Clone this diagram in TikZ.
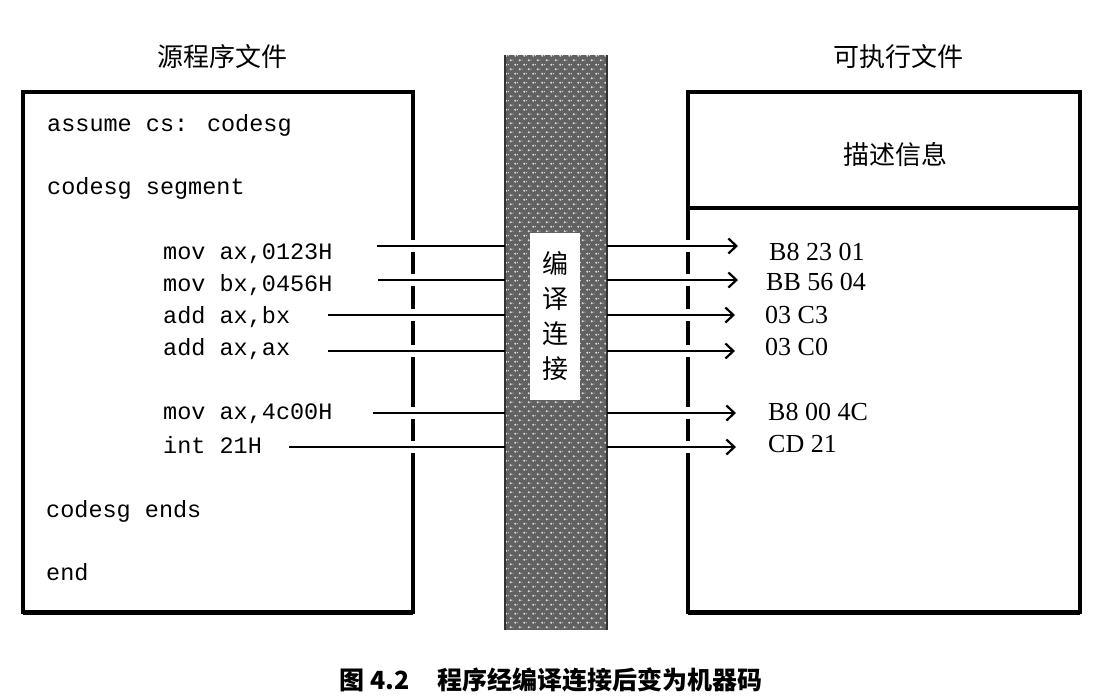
\documentclass[tikz,border=0pt]{standalone}
\usepackage{fontspec}
\setmainfont{Liberation Serif}
\newfontfamily\cjk{Noto Sans CJK SC}
\newfontfamily\codefont{Liberation Mono}
\usetikzlibrary{arrows.meta,patterns}
\pgfdeclarepatternformonly{speckle}{\pgfqpoint{-1pt}{-1pt}}{\pgfqpoint{10pt}{10pt}}{\pgfqpoint{9pt}{9pt}}{%
  \pgfpathcircle{\pgfqpoint{2.25pt}{2.25pt}}{1.2pt}%
  \pgfpathcircle{\pgfqpoint{6.75pt}{6.75pt}}{1.2pt}%
  \pgfpathrectangle{\pgfqpoint{4.05pt}{1.85pt}}{\pgfqpoint{0.9pt}{0.9pt}}%
  \pgfpathrectangle{\pgfqpoint{-0.45pt}{6.35pt}}{\pgfqpoint{0.9pt}{0.9pt}}%
  \pgfusepath{fill}}
\begin{document}
\begin{tikzpicture}[x=1pt,y=-1pt,
  box/.style={draw=black,line width=3.5pt,inner sep=0pt,outer sep=0pt},
  code/.style={anchor=base west,inner sep=0pt,font=\codefont\fontsize{23.5}{26}\selectfont},
  mach/.style={anchor=base west,inner sep=0pt,font=\fontsize{26}{28}\selectfont},
  title/.style={inner sep=0pt,font=\cjk\fontsize{26}{28}\selectfont},
  conn/.style={draw=black,line width=2.6pt},
  tip/.style={-{Straight Barb[length=8pt,width=15pt,line width=2.2pt]}},
  halo/.style={draw=white,line width=12pt}]
\useasboundingbox[fill=white] (0,0) rectangle (1103,697);

% titles
\node[title] (t1) at (222,57) {源程序文件};
\node[title] (t2) at (898,57) {可执行文件};

% source box
\node[box,minimum width=390pt,minimum height=520pt] (src) at (218,352) {};
\draw[line width=2pt] ([yshift=-1.5pt]src.south west) -- ([yshift=-1.5pt]src.south east);
% executable file boxes
\node[box,minimum width=392pt,minimum height=116pt] (desc) at (884,150) {};
\node[box,minimum width=392pt,minimum height=404pt] (exe) at (884,410) {};
\draw[line width=2pt] ([yshift=-1.5pt]exe.south west) -- ([yshift=-1.5pt]exe.south east);
\node[title] (dl) at (895,155) {描述信息};

% central compile/link bar
\node[inner sep=0pt,outer sep=0pt,minimum width=102pt,minimum height=575pt,
      preaction={fill=black!62},pattern=speckle,pattern color=white!85!black] (bar) at (556,342.5) {};
\draw[line width=1.6pt,black!80] (bar.north west) -- (bar.south west);
\draw[line width=1.6pt,black!80] (bar.north east) -- (bar.south east);
\node[fill=white,inner sep=0pt,minimum width=50pt,minimum height=167pt,align=center,
      font=\cjk\fontsize{26}{35}\selectfont] (bl) at (555,316.5) {编\\译\\连\\接};

% source code
\node[code] (s1) at (47,131) {assume cs: codesg};
\node[code] (s2) at (47,194) {codesg segment};
\node[code] (c1) at (163,259) {mov ax,0123H};
\node[code] (c2) at (163,291) {mov bx,0456H};
\node[code] (c3) at (163,323) {add ax,bx};
\node[code] (c4) at (163,355) {add ax,ax};
\node[code] (c5) at (163,419) {mov ax,4c00H};
\node[code] (c6) at (163,453) {int 21H};
\node[code] (s3) at (46,517) {codesg ends};
\node[code] (s4) at (46,580) {end};

% machine code
\node[mach] (m1) at (769,260.5) {B8 23 01};
\node[mach] (m2) at (766,290.5) {BB 56 04};
\node[mach] (m3) at (765,323.5) {03 C3};
\node[mach] (m4) at (765,355.5) {03 C0};
\node[mach] (m5) at (768,420.5) {B8 00 4C};
\node[mach] (m6) at (768,452.5) {CD 21};

% arrow tails and tips
\coordinate (a1) at (377,246); \coordinate (b1) at (738,246);
\coordinate (a2) at (378,280); \coordinate (b2) at (738,280);
\coordinate (a3) at (328,315); \coordinate (b3) at (735,315);
\coordinate (a4) at (328,351); \coordinate (b4) at (735,351);
\coordinate (a5) at (373,413); \coordinate (b5) at (736,413);
\coordinate (a6) at (289,447); \coordinate (b6) at (736,447);

\foreach \i in {1,...,6}{
  \draw[halo] (a\i -| src.east) ++(-7,0) -- ++(14,0);
  \draw[halo] (a\i -| exe.west) ++(-7,0) -- ++(14,0);
  \draw[conn] (a\i) -- (a\i -| bar.west);
  \draw[conn,tip] (a\i -| bar.east) -- (b\i);
}

% caption
\node[inner sep=0pt,font=\cjk\bfseries\fontsize{25}{28}\selectfont] (cap) at (551,680)
  {图\hspace{6pt}4.2\hspace{28pt}程序经编译连接后变为机器码};
\end{tikzpicture}
\end{document}
